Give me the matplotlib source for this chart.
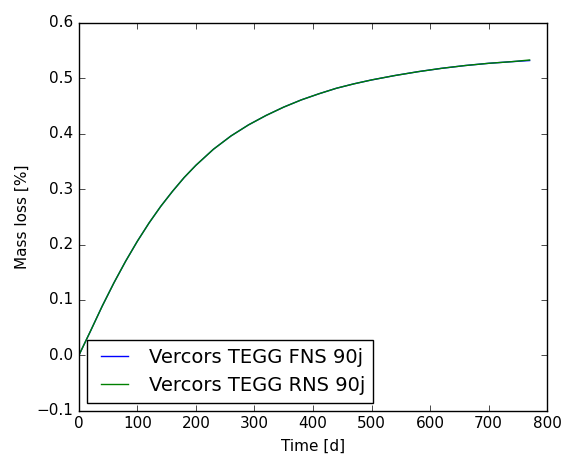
import matplotlib
matplotlib.use('Agg')
from matplotlib import pyplot as plt

# values
days = [0, 20, 40, 60, 80, 100, 120, 140, 160, 180, 200, 230, 260, 290, 320,
        350, 380, 410, 440, 470, 500, 540, 580, 620, 660, 700, 740, 770]
mass_fns = [0.000, 0.044, 0.089, 0.131, 0.170, 0.206, 0.239, 0.269, 0.296,
            0.321, 0.343, 0.372, 0.396, 0.416, 0.433, 0.448, 0.461, 0.472,
            0.482, 0.490, 0.497, 0.505, 0.512, 0.518, 0.523, 0.527, 0.530,
            0.532]
mass_rns = [0.000, 0.044, 0.089, 0.131, 0.170, 0.206, 0.239, 0.269, 0.296,
            0.321, 0.343, 0.372, 0.396, 0.416, 0.433, 0.448, 0.461, 0.472,
            0.482, 0.490, 0.497, 0.505, 0.512, 0.518, 0.523, 0.527, 0.530,
            0.533]
labels = ['Vercors TEGG FNS 90j', 'Vercors TEGG RNS 90j']

plt.style.use('classic')
fig = plt.figure(figsize=(5.67, 4.57), dpi=100, facecolor='white')
ax = fig.add_axes([0.139, 0.101, 0.826, 0.849])

ax.plot(days, mass_fns, color='b', label=labels[0])
ax.plot(days, mass_rns, color='g', label=labels[1])

ax.set_xlim(0, 800)
ax.set_ylim(-0.1, 0.6)
ax.set_xlabel('Time [d]', fontsize=11)
ax.set_ylabel('Mass loss [%]', fontsize=11)
ax.tick_params(labelsize=11)
ax.legend(loc='lower left', fontsize=14, borderaxespad=0.42,
          labelspacing=0.45)

fig.savefig('out.png', dpi=100, facecolor='white')
